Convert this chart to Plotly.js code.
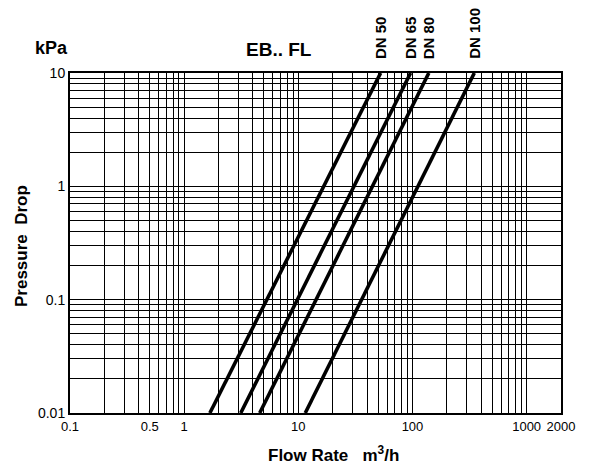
<!DOCTYPE html>
<html><head><meta charset="utf-8">
<script src="https://cdn.plot.ly/plotly-3.0.1.min.js"></script>
<style>html,body{margin:0;padding:0;background:#fff}</style>
</head><body>
<div id="chart" style="width:592px;height:466px"></div>
<script>
// Data (flow rate m3/h at the ends of each line, pressure drop kPa)
const seriesNames = ["DN 50", "DN 65", "DN 80", "DN 100"];
const dn50Flow = [1.68, 52.6];
const dn65Flow = [3.13, 96.2];
const dn80Flow = [4.59, 139];
const dn100Flow = [11.5, 348];
const pressureDrop = [0.01, 10];

const xLabelVals = [0.1, 0.5, 1, 10, 100, 1000, 2000];
const yLabelVals = [0.01, 0.1, 1, 10];

function gridVals(lo, hi, extra) {
  const v = [];
  for (let e = lo; e < hi; e++) for (let m = 1; m <= 9; m++) v.push(+(m * Math.pow(10, e)).toPrecision(3));
  v.push(Math.pow(10, hi));
  (extra || []).forEach(x => v.push(x));
  return v;
}
const xGrid = gridVals(-1, 3, [2000]);
const yGrid = gridVals(-2, 1);
const xText = xGrid.map(v => xLabelVals.includes(v) ? String(v) : "");
const yText = yGrid.map(v => yLabelVals.includes(v) ? String(v) : "");

const flows = [dn50Flow, dn65Flow, dn80Flow, dn100Flow];
const traces = flows.map((f, i) => ({
  x: f, y: pressureDrop, type: "scatter", mode: "lines", name: seriesNames[i],
  line: {color: "#000", width: 3.6}, hoverinfo: "skip"
}));

const W = 491, H = 340, L = 70, T = 73;
const px = p => (p - L) / W;
const py = p => (T + H - p) / H;
const ff = "Liberation Sans, Arial, sans-serif";

function ann(text, x, y, size, extra) {
  return Object.assign({text: text, xref: "paper", yref: "paper", x: px(x), y: py(y),
    xanchor: "center", yanchor: "middle", showarrow: false,
    font: {size: size, family: ff, color: "#000"}}, extra || {});
}
const annotations = [
  ann("<b>kPa</b>", 51, 48, 18),
  ann("<b>EB.. FL</b>", 279, 49, 19),
  ann("<b>Flow Rate   m<sup>3</sup>/h</b>", 333, 454, 17),
  ann("<b>Pressure  Drop</b>", 21, 246, 17, {textangle: -90})
];
flows.forEach((f, i) => annotations.push({
  text: "<b>" + seriesNames[i] + "</b>", xref: "x", yref: "paper", x: Math.log10(f[1]), y: py(61),
  xanchor: "center", yanchor: "bottom", textangle: -90, showarrow: false,
  font: {size: 15, family: ff, color: "#000"}
}));

const layout = {
  width: 592, height: 466,
  margin: {l: L, r: 592 - L - W, t: T, b: 466 - T - H, pad: 0},
  paper_bgcolor: "#fff", plot_bgcolor: "#fff",
  showlegend: false,
  font: {family: ff, color: "#000", size: 12},
  xaxis: {
    type: "log", range: [-1, Math.log10(2000)], tickmode: "array", tickvals: xGrid, ticktext: xText,
    tickangle: 0, showgrid: true, gridcolor: "#000", gridwidth: 1, zeroline: false,
    showline: true, mirror: true, linecolor: "#000", linewidth: 2, ticks: "",
    tickfont: {size: 13, color: "#000"}
  },
  yaxis: {
    type: "log", range: [-2, 1], tickmode: "array", tickvals: yGrid, ticktext: yText,
    tickangle: 0, showgrid: true, gridcolor: "#000", gridwidth: 1, zeroline: false,
    showline: true, mirror: true, linecolor: "#000", linewidth: 2, ticks: "",
    tickfont: {size: 14, color: "#000"}
  },
  annotations: annotations
};
Plotly.newPlot("chart", traces, layout, {staticPlot: true, displayModeBar: false});
</script>
</body></html>
